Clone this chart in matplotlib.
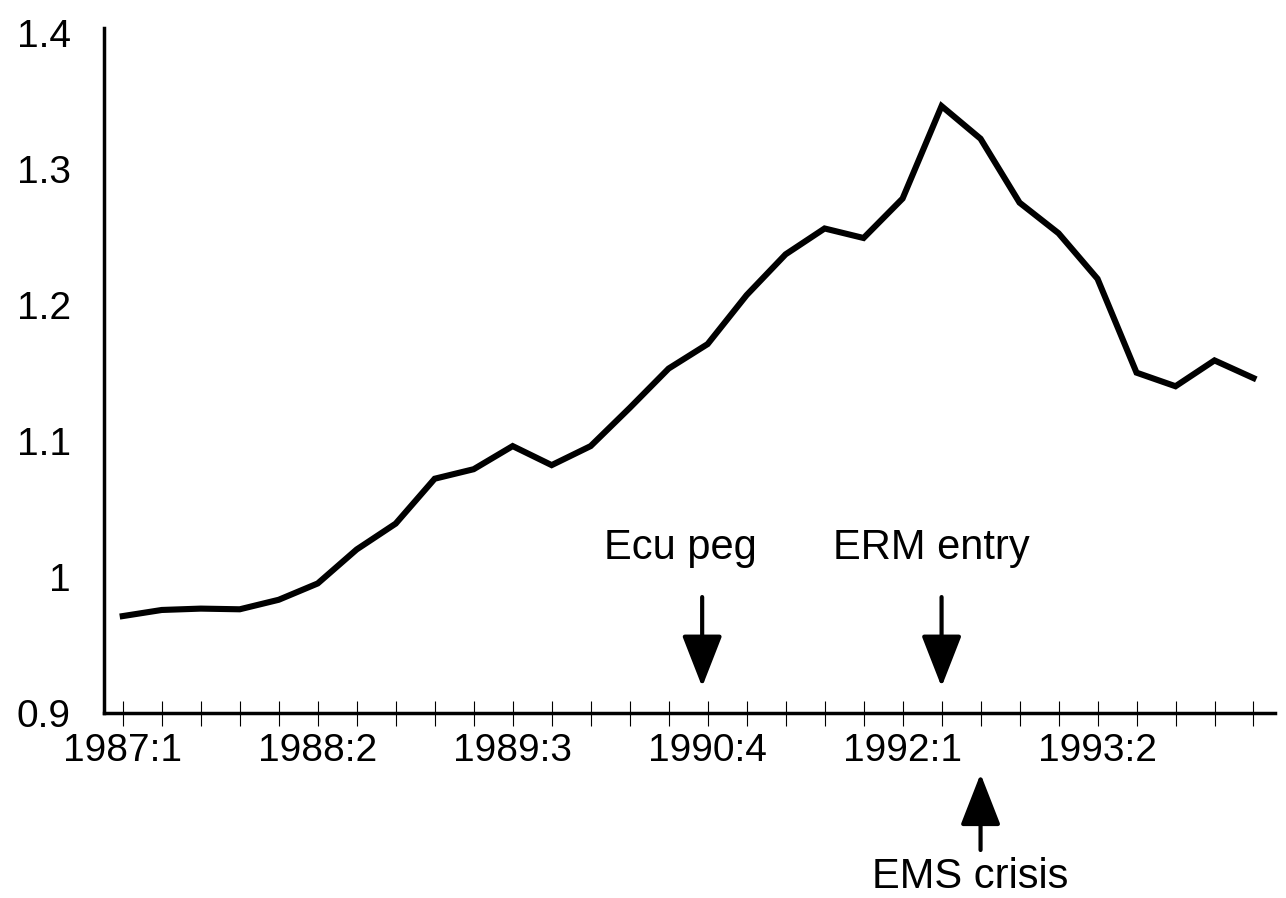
import matplotlib
matplotlib.use("Agg")
import matplotlib.pyplot as plt

plt.rcParams['font.family'] = ['Liberation Sans', 'DejaVu Sans']

# quarterly series, 1987:1 .. 1994:2
quarters = [f"{y}:{q}" for y in range(1987, 1995) for q in range(1, 5)][:30]
values = [0.971, 0.9755, 0.9765, 0.976, 0.983, 0.995, 1.020, 1.039, 1.072, 1.079,
          1.096, 1.082, 1.096, 1.124, 1.153, 1.171, 1.207, 1.237, 1.256, 1.249,
          1.278, 1.346, 1.322, 1.275, 1.2525, 1.219, 1.150, 1.140, 1.159, 1.146]

label_every = 5
ytick_values = [0.9, 1.0, 1.1, 1.2, 1.3, 1.4]
ytick_labels = ["0.9", "1", "1.1", "1.2", "1.3", "1.4"]

# events: (label, quarter index of arrow)
ecu_peg = ("Ecu peg", 14.86)
erm_entry = ("ERM entry", 21)
ems_crisis = ("EMS crisis", 22)

fig = plt.figure(figsize=(12.86, 8.98), dpi=100)
ax = fig.add_axes([0.0809, 0.2064, 0.9105, 0.7624])

x = list(range(len(values)))
ax.plot(x, values, color='black', linewidth=4.4, solid_joinstyle='miter')

ax.set_xlim(-0.48, 29.55)
ax.set_ylim(0.9, 1.4034)

ax.set_xticks(x)
ax.set_xticklabels([q if i % label_every == 0 else "" for i, q in enumerate(quarters)])
ax.set_yticks(ytick_values)
ax.set_yticklabels(ytick_labels)

ax.tick_params(axis='x', direction='inout', length=18, width=0.8, pad=6, labelsize=28)
ax.tick_params(axis='y', length=0, pad=24, labelsize=28)

for side in ['top', 'right']:
    ax.spines[side].set_visible(False)
for side in ['left', 'bottom']:
    ax.spines[side].set_linewidth(2.5)

arrow = dict(arrowstyle='-|>,head_length=32,head_width=12.5', mutation_scale=1,
             color='black', linewidth=3, shrinkA=0, shrinkB=0)

# down arrows
for name, xi in [ecu_peg, erm_entry]:
    ax.annotate("", xy=(xi, 0.919), xytext=(xi, 0.985), arrowprops=arrow,
                annotation_clip=False)
ax.text(14.29, 1.021, ecu_peg[0], fontsize=30, ha='center', va='center')
ax.text(20.75, 1.021, erm_entry[0], fontsize=30, ha='center', va='center')

# up arrow below axis
ax.annotate("", xy=(ems_crisis[1], 0.855), xytext=(ems_crisis[1], 0.799),
            arrowprops=arrow, annotation_clip=False)
ax.text(21.73, 0.7794, ems_crisis[0], fontsize=30, ha='center', va='center',
        clip_on=False)

fig.savefig("out.png", dpi=100)
